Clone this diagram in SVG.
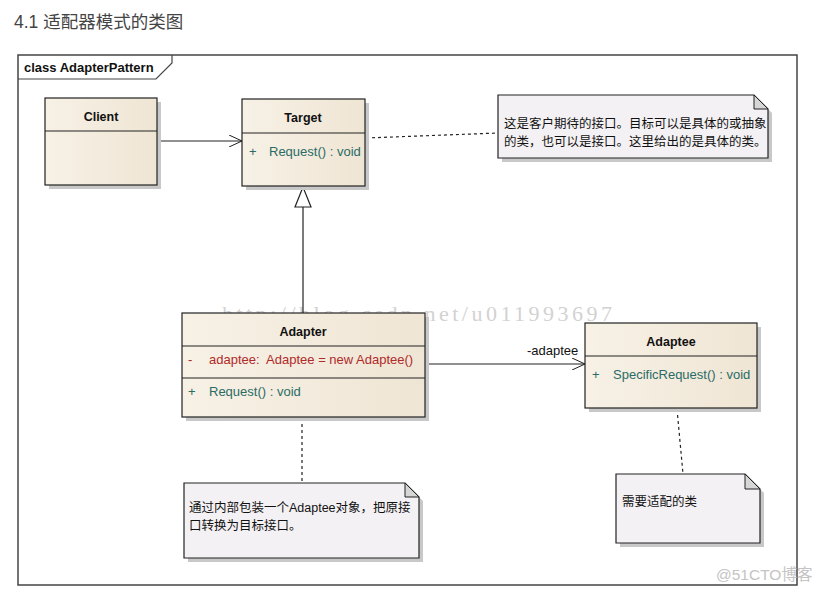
<svg xmlns="http://www.w3.org/2000/svg" width="824" height="592" viewBox="0 0 824 592">
<defs>
<linearGradient id="cls" x1="0" y1="0" x2="1" y2="0">
<stop offset="0" stop-color="#f7f1e6"/>
<stop offset="1" stop-color="#efe5d4"/>
</linearGradient>
<marker id="open" markerWidth="14" markerHeight="12" refX="13" refY="6" orient="auto" markerUnits="userSpaceOnUse">
<path d="M0,0 L13,6 L0,12" fill="none" stroke="#222" stroke-width="1"/>
</marker>
</defs>
<style>
.cls{fill:url(#cls);stroke:#222;stroke-width:1.2}
.shadow{fill:#c8c8c8}
.note{fill:#f4f1f4;stroke:#222;stroke-width:1.2}
.ear{fill:#d6d6d6;stroke:#222;stroke-width:1}
.name{font-family:"Liberation Sans",Arial,sans-serif;font-size:12.5px;font-weight:bold;fill:#111;text-anchor:middle}
.op{font-family:"Liberation Sans",Arial,sans-serif;font-size:13px;fill:#2a6b66}
.attr{font-family:"Liberation Sans",Arial,sans-serif;font-size:13px;fill:#b02a2a;white-space:pre}
.nt{font-family:"Liberation Sans","Noto Sans CJK SC",sans-serif;font-size:12.5px;fill:#111}
.line{stroke:#222;stroke-width:1.2;fill:none}
.dash{stroke:#222;stroke-width:1.2;fill:none;stroke-dasharray:3,3}
</style>
<rect x="0" y="0" width="824" height="592" fill="#ffffff"/>
<text x="14" y="28" font-family="Liberation Sans,'Noto Sans CJK SC',sans-serif" font-size="17.5" fill="#444">4.1 适配器模式的类图</text>

<g id="frame">
<rect x="18" y="55" width="779" height="530" fill="#fff" stroke="#444" stroke-width="1.5"/>
<path d="M18,79 H156 L172,63 V55" fill="none" stroke="#444" stroke-width="1.2"/>
<text x="24" y="72" font-family="Liberation Sans,Arial,sans-serif" font-size="13" font-weight="bold" fill="#111">class AdapterPattern</text>
</g>

<text x="222" y="321" font-family="Liberation Serif,'Times New Roman',serif" font-size="22" fill="#c8c8c8" opacity="0.8" textLength="390" lengthAdjust="spacing">http://blog.csdn.net/u011993697</text>

<g id="connectors">
<line class="line" x1="157" y1="141" x2="242" y2="141" marker-end="url(#open)"/>
<line class="line" x1="303" y1="313" x2="303" y2="207"/>
<path d="M303,187 L295,207 L311,207 Z" fill="#fff" stroke="#222" stroke-width="1.2"/>
<line class="line" x1="425" y1="364" x2="585" y2="364" marker-end="url(#open)"/>
<text x="527" y="355" font-family="Liberation Sans,Arial,sans-serif" font-size="13" fill="#111">-adaptee</text>
<line class="dash" x1="366" y1="138" x2="498" y2="133"/>
<line class="dash" x1="302" y1="418" x2="302" y2="483"/>
<line class="dash" x1="677" y1="409" x2="683" y2="474"/>
</g>

<g id="client">
<rect class="shadow" x="49" y="102" width="112" height="87"/>
<rect class="cls" x="45" y="98" width="112" height="87"/>
<line class="line" x1="45" y1="131" x2="157" y2="131"/>
<text class="name" x="101" y="121">Client</text>
</g>

<g id="target">
<rect class="shadow" x="246" y="103" width="123" height="87"/>
<rect class="cls" x="242" y="99" width="123" height="87"/>
<line class="line" x1="242" y1="133" x2="365" y2="133"/>
<text class="name" x="303" y="122">Target</text>
<text class="op" x="249" y="156">+</text>
<text class="op" x="269" y="156">Request() : void</text>
</g>

<g id="note-target">
<path class="shadow" d="M502,99 H758 L772,113 V162 H502 Z"/>
<path class="note" d="M498,95 H754 L768,109 V158 H498 Z"/>
<path class="ear" d="M754,95 V109 H768 Z"/>
<text class="nt" x="504" y="128">这是客户期待的接口。目标可以是具体的或抽象</text>
<text class="nt" x="504" y="146">的类，也可以是接口。这里给出的是具体的类。</text>
</g>

<g id="adapter">
<rect class="shadow" x="186" y="317" width="243" height="104"/>
<rect class="cls" x="182" y="313" width="243" height="104"/>
<line class="line" x1="182" y1="346" x2="425" y2="346"/>
<line class="line" x1="182" y1="378" x2="425" y2="378"/>
<text class="name" x="303" y="336">Adapter</text>
<text class="attr" x="188" y="364">-</text>
<text class="attr" x="209" y="364" xml:space="preserve">adaptee:  Adaptee = new Adaptee()</text>
<text class="op" x="188" y="396">+</text>
<text class="op" x="209" y="396">Request() : void</text>
</g>

<g id="adaptee">
<rect class="shadow" x="589" y="327" width="172" height="85"/>
<rect class="cls" x="585" y="323" width="172" height="85"/>
<line class="line" x1="585" y1="356" x2="757" y2="356"/>
<text class="name" x="671" y="346">Adaptee</text>
<text class="op" x="592" y="379">+</text>
<text class="op" x="613" y="379">SpecificRequest() : void</text>
</g>

<g id="note-adapter">
<path class="shadow" d="M188,487 H409 L423,501 V562 H188 Z"/>
<path class="note" d="M184,483 H405 L419,497 V558 H184 Z"/>
<path class="ear" d="M405,483 V497 H419 Z"/>
<text class="nt" x="189" y="512">通过内部包装一个Adaptee对象，把原接</text>
<text class="nt" x="189" y="530">口转换为目标接口。</text>
</g>

<g id="note-adaptee">
<path class="shadow" d="M620,478 H749 L764,493 V547 H620 Z"/>
<path class="note" d="M616,474 H745 L760,489 V543 H616 Z"/>
<path class="ear" d="M745,474 V489 H760 Z"/>
<text class="nt" x="622" y="506">需要适配的类</text>
</g>

<text x="716" y="580" font-family="Liberation Sans,'Noto Sans CJK SC',sans-serif" font-size="15.5" fill="#c4c4c4">@51CTO博客</text>
</svg>
